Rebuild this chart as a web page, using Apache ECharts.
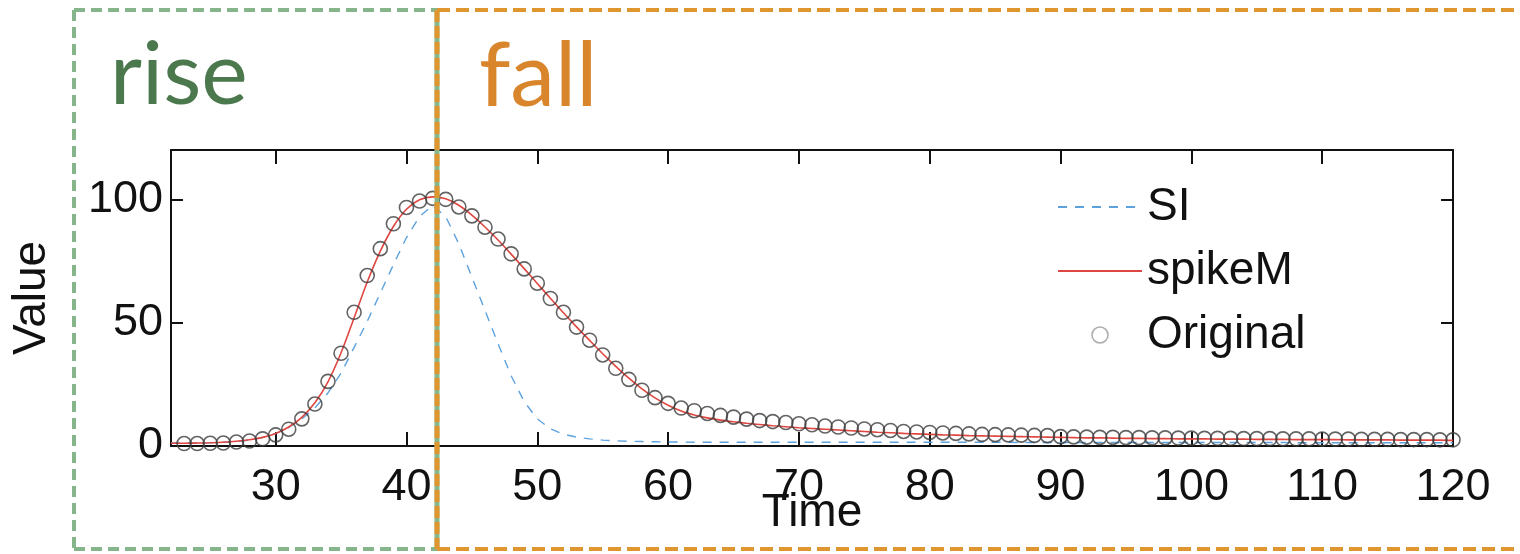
<!DOCTYPE html>
<html>
<head>
<meta charset="utf-8">
<script src="https://cdn.jsdelivr.net/npm/echarts@6/dist/echarts.min.js"></script>
<style>
html,body{margin:0;padding:0;background:#fff;}
#chart{width:1520px;height:554px;}
</style>
</head>
<body>
<div id="chart"></div>
<script>
// ---- data ----
const time = [22,23,24,25,26,27,28,29,30,31,32,33,34,35,36,37,38,39,40,41,42,43,44,45,46,47,48,49,50,51,52,53,54,55,56,57,58,59,60,61,62,63,64,65,66,67,68,69,70,71,72,73,74,75,76,77,78,79,80,81,82,83,84,85,86,87,88,89,90,91,92,93,94,95,96,97,98,99,100,101,102,103,104,105,106,107,108,109,110,111,112,113,114,115,116,117,118,119,120];

const siValues = [1.2,1.2,1.2,1.3,1.5,1.8,2.4,3.4,5.0,7.5,11.0,15.5,21.5,29.5,40.0,50.5,62.0,73.5,84.5,93.0,97.5,93.0,82.0,68.5,55.0,41.5,28.5,18.0,11.0,7.0,4.8,3.6,2.9,2.4,2.1,1.9,1.8,1.7,1.6,1.6,1.5,1.5,1.5,1.5,1.5,1.5,1.5,1.5,1.5,1.5,1.5,1.5,1.5,1.5,1.5,1.5,1.5,1.5,1.5,1.5,1.5,1.5,1.5,1.5,1.5,1.4,1.4,1.4,1.4,1.4,1.4,1.4,1.4,1.4,1.4,1.4,1.4,1.4,1.4,1.4,1.4,1.4,1.4,1.4,1.4,1.4,1.3,1.3,1.3,1.3,1.3,1.3,1.3,1.3,1.3,1.3,1.3,1.3,1.3];

const spikeMValues = [1.1,1.1,1.2,1.3,1.5,1.9,2.5,3.5,5.1,7.7,11.6,17.5,26.0,37.8,52.0,66.5,79.0,89.0,96.0,99.8,101.0,100.2,97.6,93.6,88.8,83.5,77.8,71.9,65.9,59.9,54.0,48.3,42.8,37.4,32.3,27.5,23.2,19.5,16.5,14.2,12.6,11.4,10.5,9.8,9.2,8.7,8.2,7.8,7.4,7.1,6.8,6.5,6.2,5.9,5.6,5.4,5.1,4.9,4.7,4.5,4.4,4.2,4.1,4.0,3.9,3.8,3.7,3.6,3.5,3.4,3.3,3.3,3.2,3.1,3.1,3.0,3.0,2.9,2.9,2.9,2.8,2.8,2.8,2.7,2.7,2.7,2.6,2.6,2.6,2.6,2.5,2.5,2.5,2.5,2.4,2.4,2.4,2.4,2.3];

const originalTime = [23,24,25,26,27,28,29,30,31,32,33,34,35,36,37,38,39,40,41,42,43,44,45,46,47,48,49,50,51,52,53,54,55,56,57,58,59,60,61,62,63,64,65,66,67,68,69,70,71,72,73,74,75,76,77,78,79,80,81,82,83,84,85,86,87,88,89,90,91,92,93,94,95,96,97,98,99,100,101,102,103,104,105,106,107,108,109,110,111,112,113,114,115,116,117,118,119,120];

const originalValues = [1.0,1.0,1.1,1.2,1.6,2.0,2.9,4.5,6.8,11.0,17.0,26.2,37.6,54.2,69.1,80.0,90.1,96.7,99.3,100.4,100.0,96.9,93.3,88.7,83.9,77.9,71.8,66.0,59.8,54.2,48.2,42.9,36.9,31.5,27.0,22.6,19.6,17.3,15.4,14.3,13.2,12.4,11.7,10.9,10.3,9.9,9.5,9.0,8.6,8.1,7.7,7.3,6.9,6.6,6.3,5.9,5.7,5.5,5.3,5.1,4.9,4.7,4.6,4.5,4.4,4.3,4.2,3.8,3.7,3.6,3.5,3.5,3.4,3.4,3.3,3.3,3.2,3.2,3.1,3.1,3.1,3.0,3.0,3.0,2.9,2.9,2.9,2.8,2.8,2.8,2.7,2.7,2.7,2.6,2.6,2.6,2.5,2.5];

const xTicks = [30,40,50,60,70,80,90,100,110,120];
const yTicks = [0,50,100];
const seriesNames = ['SI','spikeM','Original'];
const xName = 'Time';
const yName = 'Value';
const riseLabel = 'rise';
const fallLabel = 'fall';

// ---- chart ----
const zip = (xs, ys) => xs.map((x, i) => [x, ys[i]]);
const FONT = '"Liberation Sans", Arial, Helvetica, sans-serif';
const chart = echarts.init(document.getElementById('chart'), null, {renderer: 'canvas'});

const axisLine = {show: true, onZero: false, lineStyle: {color: '#111', width: 2}};
const tickStyle = {lineStyle: {color: '#111', width: 2}};
const hiddenSymbol = {color: 'rgba(0,0,0,0)', borderColor: 'rgba(0,0,0,0)', borderWidth: 0, opacity: 0};

const green = '#87b58b';
const orange = '#e0962f';

chart.setOption({
  animation: false,
  backgroundColor: '#fff',
  grid: {left: 171, right: 67, top: 150, bottom: 108, containLabel: false, outerBoundsMode: 'none'},
  legend: {
    orient: 'vertical',
    left: 1052,
    top: 177,
    itemWidth: 84,
    itemHeight: 16,
    itemGap: 14,
    textStyle: {fontFamily: FONT, fontSize: 46, color: '#111', lineHeight: 50},
    data: [
      {name: seriesNames[0], itemStyle: hiddenSymbol},
      {name: seriesNames[1], itemStyle: hiddenSymbol},
      {name: seriesNames[2], icon: 'circle', itemStyle: {color: 'rgba(0,0,0,0)', borderColor: '#9a9a9a', borderWidth: 1.6}}
    ]
  },
  xAxis: [
    {
      type: 'value', min: 22, max: 120, position: 'bottom',
      name: xName, nameLocation: 'middle', nameGap: 44, nameMoveOverlap: false,
      nameTextStyle: {fontFamily: FONT, fontSize: 46, color: '#111'},
      axisLine: axisLine,
      axisTick: Object.assign({show: true, inside: true, length: 14, customValues: xTicks}, tickStyle),
      axisLabel: {show: true, customValues: xTicks, margin: 19, fontFamily: FONT, fontSize: 45, color: '#111'},
      splitLine: {show: false}
    },
    {
      type: 'value', min: 22, max: 120, position: 'top',
      axisLine: axisLine,
      axisTick: Object.assign({show: true, inside: true, length: 14, customValues: xTicks}, tickStyle),
      axisLabel: {show: false},
      splitLine: {show: false}
    }
  ],
  yAxis: [
    {
      type: 'value', min: 0, max: 120, position: 'left',
      name: yName, nameLocation: 'middle', nameGap: 116, nameMoveOverlap: false,
      nameTextStyle: {fontFamily: FONT, fontSize: 46, color: '#111'},
      axisLine: axisLine,
      axisTick: Object.assign({show: true, inside: true, length: 12, customValues: yTicks}, tickStyle),
      axisLabel: {show: true, customValues: yTicks, margin: 8, fontFamily: FONT, fontSize: 45, color: '#111'},
      splitLine: {show: false}
    },
    {
      type: 'value', min: 0, max: 120, position: 'right',
      axisLine: axisLine,
      axisTick: Object.assign({show: true, inside: true, length: 12, customValues: yTicks}, tickStyle),
      axisLabel: {show: false},
      splitLine: {show: false}
    }
  ],
  series: [
    {
      name: seriesNames[0], type: 'line', data: zip(time, siValues),
      symbol: 'none', showSymbol: false,
      lineStyle: {color: '#5da2dd', width: 1.4, type: [9, 8]},
      itemStyle: {color: '#5da2dd'},
      z: 2
    },
    {
      name: seriesNames[1], type: 'line', data: zip(time, spikeMValues),
      symbol: 'none', showSymbol: false, smooth: 0.3,
      lineStyle: {color: '#e04640', width: 1.6},
      itemStyle: {color: '#e04640'},
      z: 3
    },
    {
      name: seriesNames[2], type: 'scatter', data: zip(originalTime, originalValues),
      symbol: 'circle', symbolSize: 14,
      itemStyle: {color: 'rgba(0,0,0,0)', borderColor: '#3c3c3c', borderWidth: 1.6},
      z: 4
    }
  ],
  graphic: [
    // green "rise" box
    {type: 'line', shape: {x1: 74, y1: 10, x2: 74, y2: 549}, style: {stroke: green, lineWidth: 4, lineDash: [11, 6]}, z: 10},
    {type: 'line', shape: {x1: 74, y1: 10, x2: 437, y2: 10}, style: {stroke: green, lineWidth: 4, lineDash: [11, 6]}, z: 10},
    {type: 'line', shape: {x1: 74, y1: 549, x2: 437, y2: 549}, style: {stroke: green, lineWidth: 4, lineDash: [11, 6]}, z: 10},
    {type: 'line', shape: {x1: 437, y1: 10, x2: 437, y2: 549}, style: {stroke: green, lineWidth: 5}, z: 10},
    // orange "fall" box
    {type: 'line', shape: {x1: 437, y1: 10, x2: 1530, y2: 10}, style: {stroke: orange, lineWidth: 4, lineDash: [13, 6]}, z: 11},
    {type: 'line', shape: {x1: 437, y1: 549, x2: 1530, y2: 549}, style: {stroke: orange, lineWidth: 4, lineDash: [13, 6]}, z: 11},
    {type: 'line', shape: {x1: 437, y1: 10, x2: 437, y2: 549}, style: {stroke: orange, lineWidth: 5, lineDash: [12, 4]}, z: 11},
    // labels
    {type: 'text', left: 110, top: 32, style: {text: riseLabel, font: '88px Lato, "Open Sans", sans-serif', fill: '#4b784d'}, z: 12},
    {type: 'text', left: 479, top: 32, style: {text: fallLabel, font: '90px Lato, "Open Sans", sans-serif', fill: '#d9852c'}, z: 12}
  ]
});
</script>
</body>
</html>
